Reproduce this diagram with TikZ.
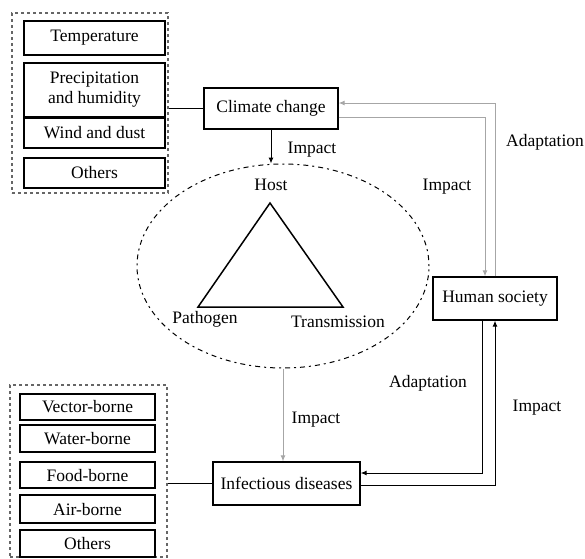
\documentclass[tikz,border=0pt]{standalone}
\usepackage{fontspec}
\setmainfont{Liberation Serif}
\usetikzlibrary{shapes.geometric,arrows.meta}
\begin{document}
\begin{tikzpicture}[x=1pt,y=-1pt,
  every node/.style={font=\fontsize{17.5}{20}\selectfont},
  box/.style={draw, line width=1.3pt, rectangle, inner sep=0pt, align=center},
  outerbox/.style={draw=gray!80!black, dashed, line width=1.1pt, inner sep=0pt},
  lbl/.style={inner sep=1pt},
  arr/.style={-{Latex[length=6pt,width=5pt]}, line width=1pt},
  conn/.style={line width=1pt}]
\useasboundingbox (0,0) rectangle (585,558);

% top-left group
\node[outerbox, minimum width=156pt, minimum height=180pt] (tlbox) at (90,103) {};
\node[box, minimum width=141pt, minimum height=34pt] (temp) at (94.5,38) {Temperature};
\node[box, minimum width=141pt, minimum height=54pt] (prec) at (94.5,90) {Precipitation\\and humidity};
\node[box, minimum width=141pt, minimum height=30pt] (wind) at (94.5,133) {Wind and dust};
\node[box, minimum width=141pt, minimum height=30pt] (oth1) at (94.5,173) {Others};

% bottom-left group
\node[outerbox, minimum width=157pt, minimum height=172pt] (blbox) at (88.5,471) {};
\node[box, minimum width=135pt, minimum height=26pt] (vec) at (87.5,407) {Vector-borne};
\node[box, minimum width=135pt, minimum height=27pt] (wat) at (87.5,438.5) {Water-borne};
\node[box, minimum width=135pt, minimum height=26pt] (food) at (87.5,475) {Food-borne};
\node[box, minimum width=135pt, minimum height=28pt] (air) at (87.5,509) {Air-borne};
\node[box, minimum width=135pt, minimum height=27pt] (oth2) at (87.5,543.5) {Others};

% main boxes
\node[box, minimum width=134pt, minimum height=41pt] (cc) at (271,108.5) {Climate change};
\node[box, minimum width=124pt, minimum height=43pt] (hs) at (495,298.5) {Human society};
\node[box, minimum width=147pt, minimum height=43pt] (inf) at (286.5,483.5) {Infectious diseases};

% ellipse with triangle
\node[draw, ellipse, line width=1pt, dash pattern=on 2pt off 4pt on 5pt off 4pt, minimum width=292pt, minimum height=204pt, inner sep=0pt] (tri) at (283,266) {};
\coordinate (hostc) at (270,203);
\coordinate (pathc) at (198,307);
\coordinate (tranc) at (343,307);
\draw[line width=1.5pt] (hostc) -- (pathc) -- (tranc) -- cycle;
\node[lbl] (hostl) at (271,185) {Host};
\node[lbl] (pathl) at (205,319) {Pathogen};
\node[lbl] (tranl) at (338,322) {Transmission};

% connectors
\draw[conn] (tlbox.east |- cc.west) -- (cc.west);
\draw[conn] (blbox.east |- inf.west) -- (inf.west);
\draw[arr] (cc.south) -- (cc.south |- tri.north);
\node[lbl] (l1) at (312,150) {Impact};

\draw[arr, draw=gray!70] ([yshift=-8.5pt]cc.east) -| ([xshift=-10pt]hs.north);
\draw[arr, draw=gray!70] (hs.north) |- ([yshift=5.5pt]cc.east);
\node[lbl] (l2) at (447,187) {Impact};
\node[lbl] (l3) at (545,142) {Adaptation};

\draw[arr, draw=gray!70] (tri.south) -- (tri.south |- inf.north);
\node[lbl] (l4) at (316,420) {Impact};

\draw[arr] ([yshift=-1.5pt]inf.east) -| (hs.south);
\draw[arr] ([xshift=-13pt]hs.south) |- ([yshift=10.5pt]inf.east);
\node[lbl] (l5) at (537,408) {Impact};
\node[lbl] (l6) at (428,383) {Adaptation};
\end{tikzpicture}
\end{document}
